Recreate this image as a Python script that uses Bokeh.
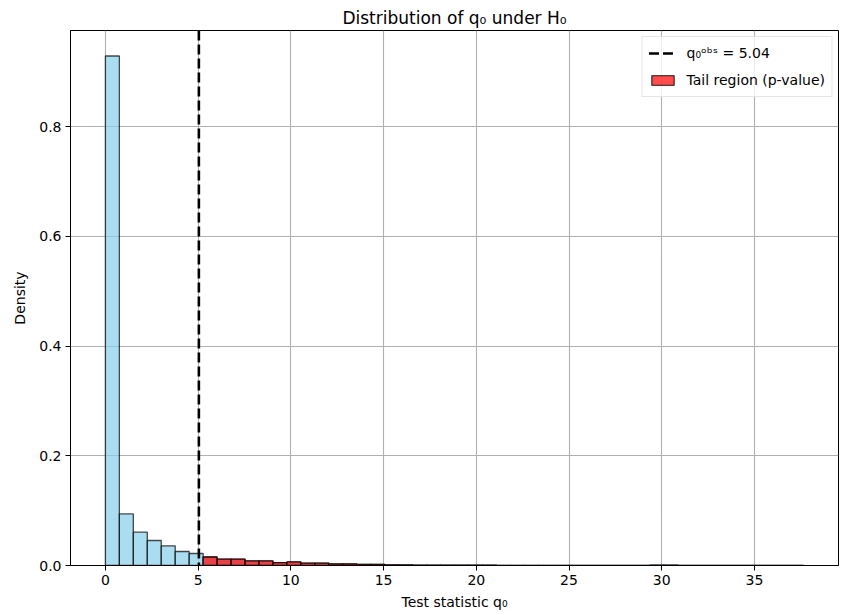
import numpy as np
from bokeh.plotting import figure
from bokeh.models import Range1d, FixedTicker, Legend, LegendItem, NumeralTickFormatter, ColumnDataSource
from bokeh.embed import file_html
from bokeh.resources import INLINE

# ---- data ----
q_obs = 5.04
q_max = 37.65
n_bins = 50
density = [
    0.929, 0.094, 0.0607, 0.0456, 0.0359, 0.0255, 0.0219, 0.0155, 0.0118, 0.0118,
    0.0083, 0.0083, 0.0052, 0.0065, 0.0042, 0.0042, 0.0028, 0.0028, 0.0022, 0.0022,
    0.0012, 0.0010, 0.0008, 0.0008, 0.0006, 0.0006, 0.0005, 0.0005, 0.0004, 0.0004,
    0.0003, 0.0003, 0.0, 0.0, 0.0, 0.0, 0.0, 0.0, 0.0, 0.0007,
    0.0007, 0.0, 0.0, 0.0, 0.0, 0.0, 0.0, 0.0, 0.0, 0.0,
]
x_ticks = [0, 5, 10, 15, 20, 25, 30, 35]
y_ticks = [0.0, 0.2, 0.4, 0.6, 0.8]
title_text = "Distribution of q\u2080 under H\u2080"
x_label = "Test statistic q\u2080"
y_label = "Density"
obs_label = "q\u2080\u1d52\u1d47\u02e2 = 5.04"
tail_label = "Tail region (p-value)"

# ---- derived ----
edges = np.linspace(0, q_max, n_bins + 1)
left = edges[:-1]
right = edges[1:]
dens = np.array(density)
tail = left >= q_obs
y_top = 1.05 * dens.max()

FONT = "DejaVu Sans"
DASH = "10 4"

pad = 0.05 * q_max
p = figure(width=844, height=615, output_backend="svg", toolbar_location=None,
           x_range=Range1d(-pad, q_max + pad), y_range=Range1d(0, y_top),
           min_border_left=70, min_border_right=6, min_border_top=30, min_border_bottom=50)
p.background_fill_color = "white"
p.border_fill_color = "white"
p.outline_line_color = "black"
p.outline_line_width = 1

all_src = ColumnDataSource(dict(left=left, right=right, top=dens, bottom=np.zeros_like(dens)))
tail_src = ColumnDataSource(dict(left=left[tail], right=right[tail], top=dens[tail],
                                 bottom=np.zeros(tail.sum())))

p.quad(left="left", right="right", top="top", bottom="bottom", source=all_src,
       fill_color="#87ceeb", fill_alpha=0.7, line_color="black", line_alpha=0.7, line_width=1.3)
tail_r = p.quad(left="left", right="right", top="top", bottom="bottom", source=tail_src,
                fill_color="red", fill_alpha=0.7, line_color="black", line_alpha=0.7, line_width=1.3)

# observed statistic: vertical dashed line across the whole axis
obs_line = p.line(x=[q_obs, q_obs], y=[y_top, 0], line_color="black", line_width=2.6, line_dash=DASH)

# grid (below the bars)
p.grid.grid_line_color = "#b0b0b0"
p.grid.grid_line_width = 1.1
p.grid.level = "underlay"

# axes
p.xaxis.ticker = FixedTicker(ticks=x_ticks, minor_ticks=[])
p.yaxis.ticker = FixedTicker(ticks=y_ticks, minor_ticks=[])
p.yaxis.formatter = NumeralTickFormatter(format="0.0")
for ax in (p.xaxis, p.yaxis):
    ax.major_tick_in = 0
    ax.major_tick_out = 5
    ax.minor_tick_in = 0
    ax.minor_tick_out = 0
    ax.major_tick_line_color = "black"
    ax.axis_line_color = "black"
    ax.major_label_text_font = FONT
    ax.major_label_text_font_size = "14px"
    ax.major_label_text_color = "black"
    ax.axis_label_text_font = FONT
    ax.axis_label_text_font_size = "14px"
    ax.axis_label_text_font_style = "normal"
    ax.axis_label_text_color = "black"
    ax.major_label_standoff = 4
p.xaxis.axis_label = x_label
p.yaxis.axis_label = y_label
p.xaxis.axis_label_standoff = 6
p.yaxis.axis_label_standoff = 8

# title
p.title.text = title_text
p.title.align = "center"
p.title.text_font = FONT
p.title.text_font_size = "17px"
p.title.text_font_style = "normal"
p.title.text_color = "black"
p.title.offset = 0
p.title.standoff = 6

legend = Legend(items=[LegendItem(label=obs_label, renderers=[obs_line]),
                       LegendItem(label=tail_label, renderers=[tail_r])],
                location="top_right")
legend.margin = 6
legend.padding = 6
legend.spacing = 7
legend.label_height = 20
legend.glyph_height = 12
legend.glyph_width = 28
legend.label_standoff = 10
legend.label_text_font = FONT
legend.label_text_font_size = "14px"
legend.label_text_color = "black"
legend.border_line_color = "#cccccc"
legend.border_line_width = 1
legend.background_fill_alpha = 0.8
p.add_layout(legend)

open("out.html", "w").write(file_html(p, INLINE))
